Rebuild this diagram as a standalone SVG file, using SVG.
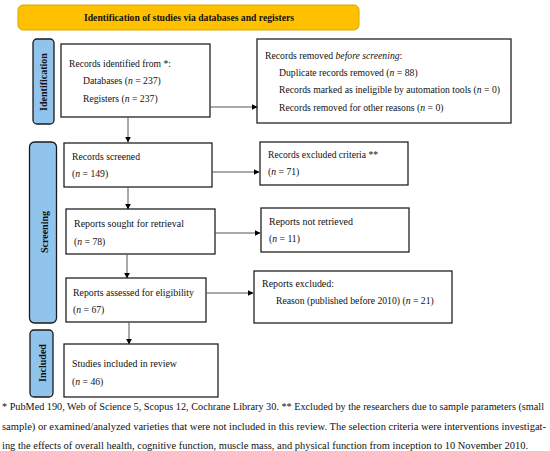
<svg xmlns="http://www.w3.org/2000/svg" width="550" height="451" viewBox="0 0 550 451">
<style>
text{font-family:"Liberation Serif","Times New Roman",serif;font-size:9.7px;fill:#111}
.b{fill:#fff;stroke:#222;stroke-width:1.3}
.side{fill:#90C4EC;stroke:#1a1a1a;stroke-width:1.3}
.sl{font-weight:bold;font-size:10px;text-anchor:middle}
.c{stroke:#555;stroke-width:1;fill:none;marker-end:url(#ah)}
.fn{font-size:9.5px}
.i{font-style:italic}
</style>
<defs>
<marker id="ah" viewBox="0 0 10 10" refX="9" refY="5" markerWidth="6" markerHeight="6" markerUnits="userSpaceOnUse" orient="auto"><path d="M0,0 L10,5 L0,10 z" fill="#000"/></marker>
</defs>
<g id="title">
<rect x="18" y="5" width="341" height="25" rx="5" fill="#FFC000" stroke="#D9A600" stroke-width="1"/>
<text x="84" y="21" font-weight="bold" font-size="10" textLength="210" lengthAdjust="spacingAndGlyphs">Identification of studies via databases and registers</text>
</g>
<g id="lbl-identification">
<rect class="side" x="33" y="39" width="21" height="85" rx="4"/>
<text class="sl" transform="translate(47,82) rotate(-90)">Identification</text>
</g>
<g id="lbl-screening">
<rect class="side" x="29.5" y="142" width="27" height="181" rx="5"/>
<text class="sl" transform="translate(48,232) rotate(-90)">Screening</text>
</g>
<g id="lbl-included">
<rect class="side" x="30" y="330" width="23" height="67" rx="4"/>
<text class="sl" transform="translate(45.5,363) rotate(-90)">Included</text>
</g>
<g id="records-identified">
<rect class="b" x="61" y="44" width="149" height="73"/>
<text x="69" y="67" textLength="102" lengthAdjust="spacingAndGlyphs">Records identified from *:</text>
<text x="83" y="84">Databases (<tspan class="i">n</tspan> = 237)</text>
<text x="83" y="102">Registers (<tspan class="i">n</tspan> = 237)</text>
</g>
<g id="records-removed">
<rect class="b" x="257" y="39" width="254" height="84"/>
<text x="265" y="59">Records removed <tspan class="i">before screening</tspan>:</text>
<text x="279" y="76">Duplicate records removed (<tspan class="i">n</tspan> = 88)</text>
<text x="279" y="93">Records marked as ineligible by automation tools (<tspan class="i">n</tspan> = 0)</text>
<text x="279" y="111">Records removed for other reasons (<tspan class="i">n</tspan> = 0)</text>
</g>
<g id="records-screened">
<rect class="b" x="64" y="143" width="148" height="44"/>
<text x="72" y="160" textLength="68" lengthAdjust="spacingAndGlyphs">Records screened</text>
<text x="72" y="177">(<tspan class="i">n</tspan> = 149)</text>
</g>
<g id="records-excluded">
<rect class="b" x="260" y="142" width="148" height="43"/>
<text x="268" y="158" textLength="110" lengthAdjust="spacingAndGlyphs">Records excluded criteria **</text>
<text x="268" y="175">(<tspan class="i">n</tspan> = 71)</text>
</g>
<g id="reports-sought">
<rect class="b" x="66" y="209" width="149" height="45"/>
<text x="74" y="227" textLength="110" lengthAdjust="spacingAndGlyphs">Reports sought for retrieval</text>
<text x="74" y="245">(<tspan class="i">n</tspan> = 78)</text>
</g>
<g id="reports-not-retrieved">
<rect class="b" x="261" y="208" width="148" height="44"/>
<text x="269" y="225" textLength="84" lengthAdjust="spacingAndGlyphs">Reports not retrieved</text>
<text x="269" y="242">(<tspan class="i">n</tspan> = 11)</text>
</g>
<g id="reports-assessed">
<rect class="b" x="66" y="278" width="140" height="44"/>
<text x="73" y="296" textLength="121" lengthAdjust="spacingAndGlyphs">Reports assessed for eligibility</text>
<text x="73" y="313">(<tspan class="i">n</tspan> = 67)</text>
</g>
<g id="reports-excluded">
<rect class="b" x="254" y="271" width="198" height="52"/>
<text x="262" y="287" textLength="72" lengthAdjust="spacingAndGlyphs">Reports excluded:</text>
<text x="276" y="304">Reason (published before 2010) (<tspan class="i">n</tspan> = 21)</text>
</g>
<g id="studies-included">
<rect class="b" x="64" y="344" width="154" height="53"/>
<text x="72" y="367" textLength="105" lengthAdjust="spacingAndGlyphs">Studies included in review</text>
<text x="72" y="385">(<tspan class="i">n</tspan> = 46)</text>
</g>
<g id="connectors">
<line class="c" x1="210" y1="107" x2="257" y2="107"/>
<line class="c" x1="128" y1="117" x2="128" y2="142"/>
<line class="c" x1="212" y1="172" x2="259" y2="172"/>
<line class="c" x1="128" y1="187" x2="128" y2="209"/>
<line class="c" x1="215" y1="233" x2="260" y2="233"/>
<line class="c" x1="127" y1="254" x2="127" y2="278"/>
<line class="c" x1="206" y1="293" x2="253" y2="293"/>
<line class="c" x1="129" y1="322" x2="129" y2="344"/>
</g>
<g id="footnote">
<text class="fn" x="2" y="410" textLength="542" lengthAdjust="spacingAndGlyphs">* PubMed 190, Web of Science 5, Scopus 12, Cochrane Library 30. ** Excluded by the researchers due to sample parameters (small</text>
<text class="fn" x="2" y="430" textLength="544" lengthAdjust="spacingAndGlyphs">sample) or examined/analyzed varieties that were not included in this review. The selection criteria were interventions investigat-</text>
<text class="fn" x="2" y="449" textLength="526" lengthAdjust="spacingAndGlyphs">ing the effects of overall health, cognitive function, muscle mass, and physical function from inception to 10 November 2010.</text>
</g>
</svg>
